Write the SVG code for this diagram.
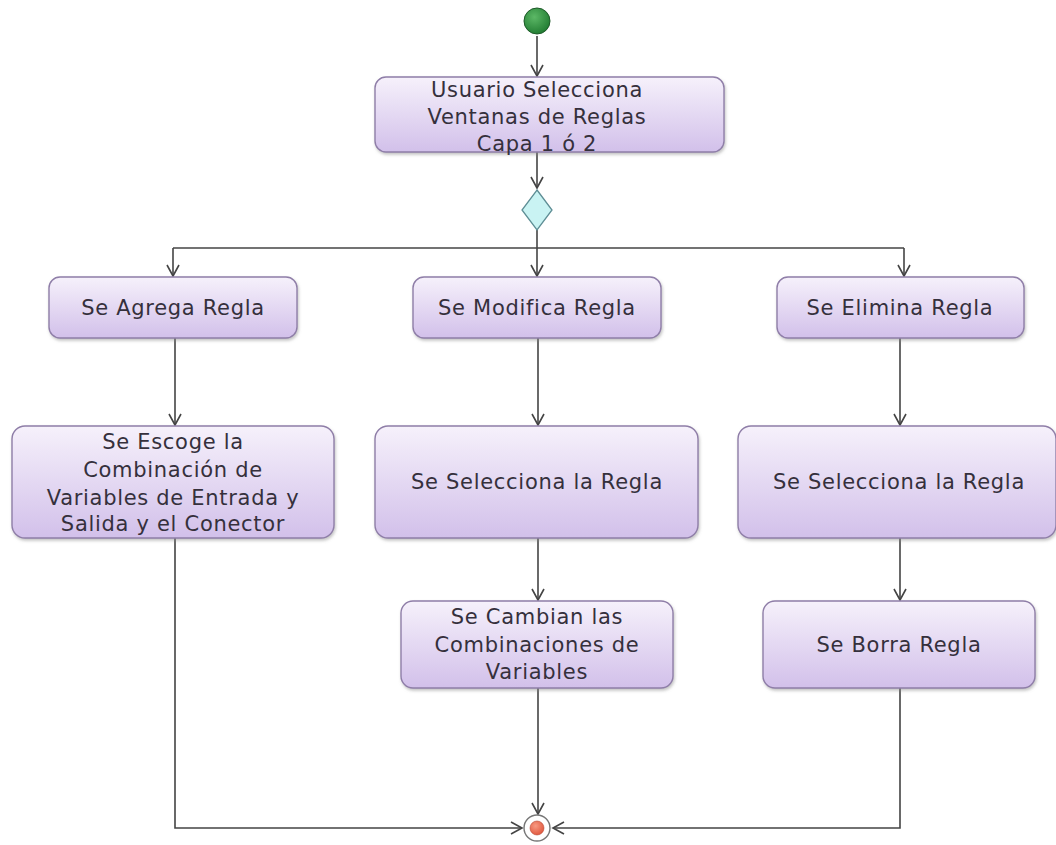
<svg xmlns="http://www.w3.org/2000/svg" width="1056" height="845" viewBox="0 0 1056 845">
<defs>
<linearGradient id="boxg" x1="0" y1="0" x2="0" y2="1">
<stop offset="0" stop-color="#f6f1fb"/>
<stop offset="1" stop-color="#d2c0ea"/>
</linearGradient>
<radialGradient id="startg" cx="0.4" cy="0.35" r="0.7">
<stop offset="0" stop-color="#5cb866"/>
<stop offset="1" stop-color="#1f7a30"/>
</radialGradient>
<radialGradient id="endg" cx="0.4" cy="0.35" r="0.7">
<stop offset="0" stop-color="#f79a82"/>
<stop offset="1" stop-color="#e0553c"/>
</radialGradient>
<filter id="sh" x="-10%" y="-10%" width="120%" height="130%">
<feDropShadow dx="1" dy="2" stdDeviation="1.5" flood-color="#888" flood-opacity="0.5"/>
</filter>
<marker id="arr" markerWidth="14" markerHeight="14" refX="12" refY="7" orient="auto" markerUnits="userSpaceOnUse">
<polyline points="1,1 12,7 1,13" fill="none" stroke="#444" stroke-width="1.6"/>
</marker>
</defs>
<style>
.box{fill:url(#boxg);stroke:#8f7ea8;stroke-width:1.4;filter:url(#sh)}
.t{font-family:"DejaVu Sans",Verdana,sans-serif;font-size:21px;letter-spacing:0.7px;fill:#35303c;text-anchor:middle}
.c{fill:none;stroke:#444;stroke-width:1.6}
</style>
<rect width="1056" height="845" fill="#ffffff"/>
<g id="connectors">
<line class="c" x1="537" y1="36" x2="537" y2="76" marker-end="url(#arr)"/>
<line class="c" x1="537" y1="152" x2="537" y2="188" marker-end="url(#arr)"/>
<line class="c" x1="537" y1="230" x2="537" y2="248"/>
<line class="c" x1="173" y1="248" x2="904" y2="248"/>
<line class="c" x1="173" y1="248" x2="173" y2="276" marker-end="url(#arr)"/>
<line class="c" x1="537" y1="248" x2="537" y2="276" marker-end="url(#arr)"/>
<line class="c" x1="904" y1="248" x2="904" y2="276" marker-end="url(#arr)"/>
<line class="c" x1="175" y1="338" x2="175" y2="425" marker-end="url(#arr)"/>
<line class="c" x1="538" y1="338" x2="538" y2="425" marker-end="url(#arr)"/>
<line class="c" x1="900" y1="338" x2="900" y2="425" marker-end="url(#arr)"/>
<line class="c" x1="538" y1="538" x2="538" y2="600" marker-end="url(#arr)"/>
<line class="c" x1="900" y1="538" x2="900" y2="600" marker-end="url(#arr)"/>
<line class="c" x1="538" y1="688" x2="538" y2="814" marker-end="url(#arr)"/>
<polyline class="c" points="175,538 175,828 522,828" marker-end="url(#arr)"/>
<polyline class="c" points="900,688 900,828 553,828" marker-end="url(#arr)"/>
</g>
<g id="start"><circle cx="537" cy="21" r="13" fill="url(#startg)" stroke="#1d5a28" stroke-width="1"/></g>
<g id="n1"><rect class="box" x="375" y="77" width="349" height="75" rx="11"/>
<text class="t" x="537" y="97">Usuario Selecciona</text>
<text class="t" x="537" y="124">Ventanas de Reglas</text>
<text class="t" x="537" y="151">Capa 1 ó 2</text></g>
<g id="decision"><polygon points="537,190 552,210 537,230 522,210" fill="#c9f3f3" stroke="#5e8e95" stroke-width="1.3"/></g>
<g id="n2"><rect class="box" x="49" y="277" width="248" height="61" rx="11"/>
<text class="t" x="173" y="315">Se Agrega Regla</text></g>
<g id="n3"><rect class="box" x="413" y="277" width="248" height="61" rx="11"/>
<text class="t" x="537" y="315">Se Modifica Regla</text></g>
<g id="n4"><rect class="box" x="777" y="277" width="247" height="61" rx="11"/>
<text class="t" x="900" y="315">Se Elimina Regla</text></g>
<g id="n5"><rect class="box" x="12" y="426" width="322" height="112" rx="13"/>
<text class="t" x="173" y="449">Se Escoge la</text>
<text class="t" x="173" y="477">Combinación de</text>
<text class="t" x="173" y="505">Variables de Entrada y</text>
<text class="t" x="173" y="531">Salida y el Conector</text></g>
<g id="n6"><rect class="box" x="375" y="426" width="323" height="112" rx="13"/>
<text class="t" x="537" y="489">Se Selecciona la Regla</text></g>
<g id="n7"><rect class="box" x="738" y="426" width="318" height="112" rx="13"/>
<text class="t" x="899" y="489">Se Selecciona la Regla</text></g>
<g id="n8"><rect class="box" x="401" y="601" width="272" height="87" rx="12"/>
<text class="t" x="537" y="624">Se Cambian las</text>
<text class="t" x="537" y="652">Combinaciones de</text>
<text class="t" x="537" y="679">Variables</text></g>
<g id="n9"><rect class="box" x="763" y="601" width="272" height="87" rx="12"/>
<text class="t" x="899" y="652">Se Borra Regla</text></g>
<g id="end"><circle cx="537" cy="828" r="13" fill="#fff" stroke="#777" stroke-width="1.4"/>
<circle cx="537" cy="828" r="7" fill="url(#endg)" stroke="#b84a36" stroke-width="0.6"/></g>
</svg>
